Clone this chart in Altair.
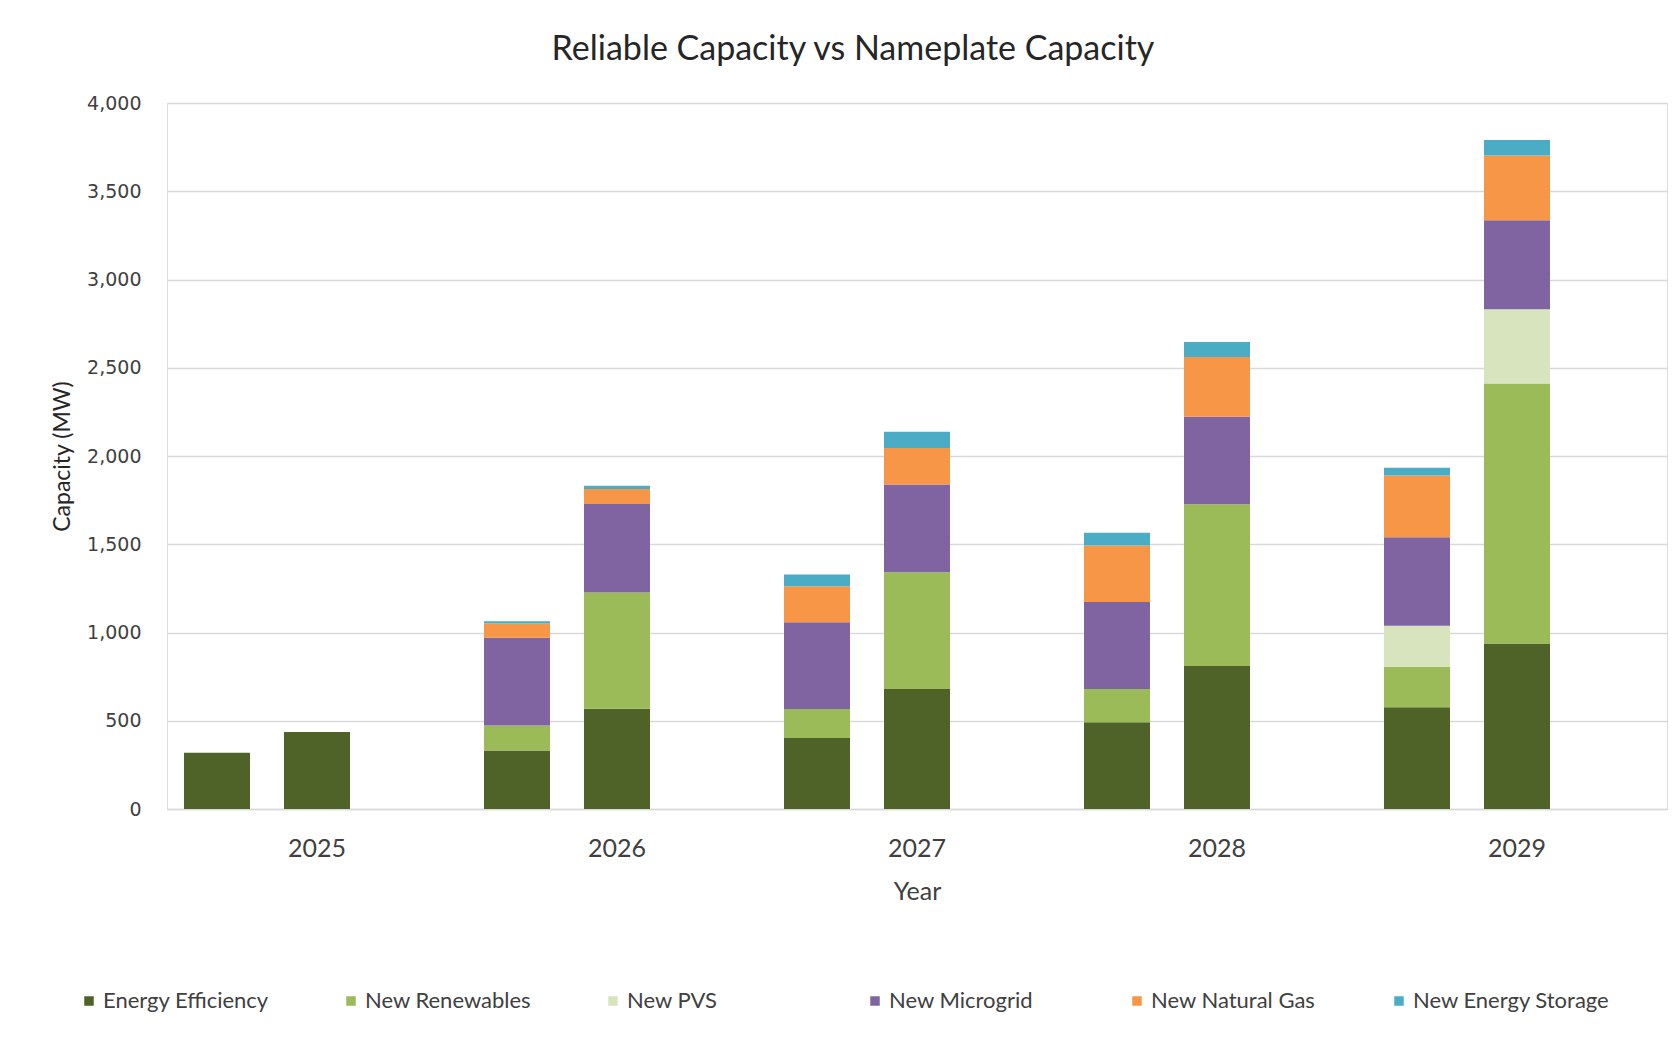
import altair as alt
import pandas as pd

# Categories
years = ["2025", "2026", "2027", "2028", "2029"]
kinds = ["Reliable", "Nameplate"]
series = [
    "Energy Efficiency",
    "New Renewables",
    "New PVS",
    "New Microgrid",
    "New Natural Gas",
    "New Energy Storage",
]
colors = ["#4f6228", "#9bbb59", "#d7e4bd", "#8064a2", "#f79646", "#4bacc6"]

# Reliable capacity by resource (MW), one value per year
rel_efficiency = [318, 331, 402, 491, 576]
rel_renewables = [0, 142, 165, 189, 230]
rel_pvs = [0, 0, 0, 0, 232]
rel_microgrid = [0, 497, 491, 493, 502]
rel_gas = [0, 81, 204, 320, 349]
rel_storage = [0, 13, 66, 72, 44]

# Nameplate capacity by resource (MW), one value per year
np_efficiency = [436, 568, 680, 810, 938]
np_renewables = [0, 659, 661, 917, 1473]
np_pvs = [0, 0, 0, 0, 420]
np_microgrid = [0, 501, 497, 496, 505]
np_gas = [0, 85, 208, 338, 367]
np_storage = [0, 18, 91, 85, 87]

reliable = [rel_efficiency, rel_renewables, rel_pvs, rel_microgrid, rel_gas, rel_storage]
nameplate = [np_efficiency, np_renewables, np_pvs, np_microgrid, np_gas, np_storage]

rows = []
for kind, block in zip(kinds, [reliable, nameplate]):
    for s_idx, (name, values) in enumerate(zip(series, block)):
        for year, v in zip(years, values):
            if v > 0:
                rows.append({"Year": year, "Kind": kind, "Series": name,
                             "Order": s_idx, "Value": v})
df = pd.DataFrame(rows)

LABEL_FONT = "Lato"
TEXT = "#404040"

chart = (
    alt.Chart(df)
    .mark_bar()
    .encode(
        x=alt.X(
            "Year:N",
            sort=years,
            scale=alt.Scale(paddingInner=0, paddingOuter=0),
            axis=alt.Axis(
                title="Year",
                labelAngle=0,
                labelFont=LABEL_FONT,
                labelFontSize=25,
                labelColor=TEXT,
                labelPadding=27,
                ticks=False,
                domainColor="#d9d9d9",
                domainWidth=1.5,
                titleFont=LABEL_FONT,
                titleFontSize=25,
                titleFontWeight="normal",
                titleColor=TEXT,
                titleBaseline="middle",
                titleY=82,
            ),
        ),
        xOffset=alt.XOffset(
            "Kind:N",
            scale=alt.Scale(domain=["Reliable", "Nameplate", "Gap"],
                            paddingInner=0.34, paddingOuter=0.17),
        ),
        y=alt.Y(
            "Value:Q",
            stack="zero",
            scale=alt.Scale(domain=[0, 4000], nice=False),
            axis=alt.Axis(
                title="Capacity (MW)",
                values=list(range(0, 4001, 500)),
                format=",.0f",
                labelFont="DejaVu Sans",
                labelFontSize=19,
                labelColor=TEXT,
                labelPadding=26,
                ticks=False,
                domain=False,
                gridColor="#d9d9d9",
                gridWidth=1.5,
                titleFont=LABEL_FONT,
                titleFontSize=23,
                titleFontWeight="normal",
                titleColor="#262626",
                titleBaseline="middle",
                titleX=-105,
                titleY=353,
            ),
        ),
        color=alt.Color(
            "Series:N",
            scale=alt.Scale(domain=series, range=colors),
            legend=alt.Legend(
                title=None,
                orient="none",
                legendX=-89,
                legendY=887,
                direction="horizontal",
                columns=6,
                gridAlign="all",
                columnPadding=40,
                symbolType="square",
                symbolSize=90,
                symbolStrokeWidth=0,
                labelFont=LABEL_FONT,
                labelFontSize=22,
                labelColor=TEXT,
                labelOffset=3,
                labelLimit=400,
            ),
        ),
        order=alt.Order("Order:Q", sort="ascending"),
    )
    .properties(
        width=1500,
        height=706,
        title=alt.TitleParams(
            "Reliable Capacity vs Nameplate Capacity",
            font=LABEL_FONT,
            fontSize=34,
            fontWeight="normal",
            color="#262626",
            anchor="middle",
            baseline="middle",
            offset=10,
            dx=-64,
        ),
        autosize=alt.AutoSizeParams(type="none"),
        padding={"left": 167, "top": 103, "right": 5, "bottom": 230},
    )
    .configure_view(stroke=None)
    .configure(background="white")
)

chart.save("out.html", embed_options={"renderer": "svg", "actions": False})
